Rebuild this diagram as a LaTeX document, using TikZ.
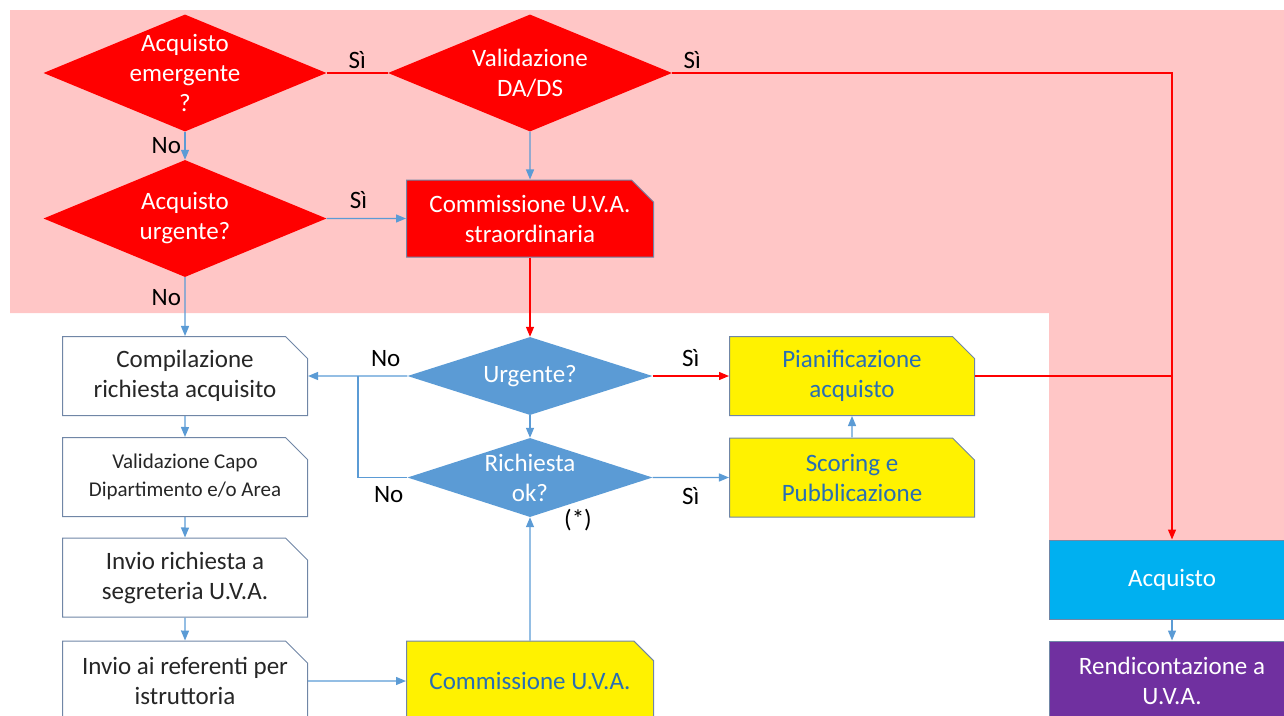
\documentclass[tikz,border=0pt]{standalone}
\usepackage{fontspec}
\setmainfont{Carlito}
\usetikzlibrary{shapes.geometric,shapes.misc,arrows.meta}
\definecolor{bgpink}{RGB}{255,198,198}
\definecolor{flowblue}{RGB}{91,155,213}
\definecolor{boxline}{RGB}{112,134,166}
\definecolor{textblue}{RGB}{40,110,180}
\definecolor{skyfill}{RGB}{0,176,240}
\definecolor{plum}{RGB}{112,48,160}

\begin{document}
\begin{tikzpicture}[x=1pt,y=-1pt,
  every node/.style={font=\fontsize{25}{30}\selectfont},
  decision/.style={shape=diamond,inner xsep=0pt,inner ysep=-15pt,align=center,text=white},
  reddiam/.style={decision,fill=red,aspect=2.42,minimum width=283pt,minimum height=117pt},
  bluediam/.style={decision,fill=flowblue,aspect=3.14,minimum width=245pt,minimum height=78pt},
  snipbox/.style={chamfered rectangle,chamfered rectangle corners=north east,
    chamfered rectangle sep=11pt,draw=boxline,line width=1pt,align=center,
    minimum width=245pt,minimum height=79pt,inner sep=0pt},
  plainbox/.style={snipbox,fill=white,text=black!85},
  yellowbox/.style={snipbox,fill=yellow,text=textblue},
  flatbox/.style={rectangle,draw=boxline,line width=1pt,align=center,text=white,
    minimum width=246pt,minimum height=79pt,inner sep=0pt},
  blueline/.style={draw=flowblue,line width=1.3pt},
  redline/.style={draw=red,line width=1.3pt},
  tip/.style={-{Triangle[length=10pt,width=8pt]}}
]
\useasboundingbox (0,0) rectangle (1284,715);
\fill[bgpink] (10,10) -- (1290,10) -- (1290,540) -- (1049,540) -- (1049,313) -- (10,313) -- cycle;

\node(emerg)  at (185,73)    [reddiam]  {Acquisto\\emergente\\?};
\node(valid)  at (530,73)    [reddiam,minimum width=284pt] {Validazione\\DA/DS};
\node(urgacq) at (185,218.5) [reddiam]  {Acquisto\\urgente?};
\node(straord) at (530,218.5) [snipbox,fill=red,text=white,minimum width=247pt,minimum height=77pt] {Commissione U.V.A.\\straordinaria};

\node(compil) at (185,376)   [plainbox] {Compilazione\\richiesta acquisito};
\node(capo)   at (185,477)   [plainbox,font=\fontsize{21}{28}\selectfont] {Validazione Capo\\Dipartimento e/o Area};
\node(invio)  at (185,577.5) [plainbox] {Invio richiesta a\\segreteria U.V.A.};
\node(refer)  at (185,681)   [plainbox,minimum height=80pt] {Invio ai referenti per\\istruttoria};

\node(urg)    at (530,376)   [bluediam] {Urgente?};
\node(okreq)  at (530,477.5) [bluediam,minimum height=79pt] {Richiesta\\ok?};
\node(star)   at (578,520)   {(*)};
\node(commis) at (530,681)   [yellowbox,minimum width=247pt,minimum height=80pt] {Commissione U.V.A.};

\node(pianif) at (852,376)   [yellowbox] {Pianificazione\\acquisto};
\node(scoring) at (852,477.5) [yellowbox] {Scoring e\\Pubblicazione};

\node(acq)    at (1172,579.5) [flatbox,fill=skyfill] {Acquisto};
\node(rend)   at (1172,681)   [flatbox,fill=plum,minimum height=80pt] {Rendicontazione a\\U.V.A.};

\coordinate(merge) at (358,376);
\coordinate(join)  at (1172,376);

% red branch
\draw[redline] (emerg.east) -- node[above] {Sì} (valid.west);
\draw[redline,tip] (valid.east) -| node[pos=0.02,above] {Sì} (acq.north);
\draw[redline,tip] (straord.south) -- (urg.north);
\draw[redline,tip] (urg.east) -- node[above,yshift=5pt] {Sì} (pianif.west);
\draw[redline] (pianif.east) -- (join);

% blue branch
\path [every edge/.style={blueline,tip}]
  (emerg)  edge  node [left]  {No}  (urgacq)
  (urgacq) edge  node [pos=0.4,above,yshift=6pt] {Sì}  (straord)
  (valid)  edge                     (straord)
  (urgacq) edge  node [pos=0.35,left]  {No}  (compil)
  (compil) edge                     (capo)
  (capo)   edge                     (invio)
  (invio)  edge                     (refer)
  (refer)  edge                     (commis)
  (commis) edge                     (okreq)
  (urg)    edge                     (okreq)
  (urg)    edge  node [pos=0.03,above left,yshift=5pt] {No} (compil)
  (okreq)  edge  node [below,yshift=-6pt] {Sì}  (scoring)
  (scoring) edge                    (pianif)
  (acq)    edge                     (rend);
\draw[blueline] (okreq.west) node[below left,yshift=-5pt] {No} -| (merge);

\end{tikzpicture}
\end{document}
